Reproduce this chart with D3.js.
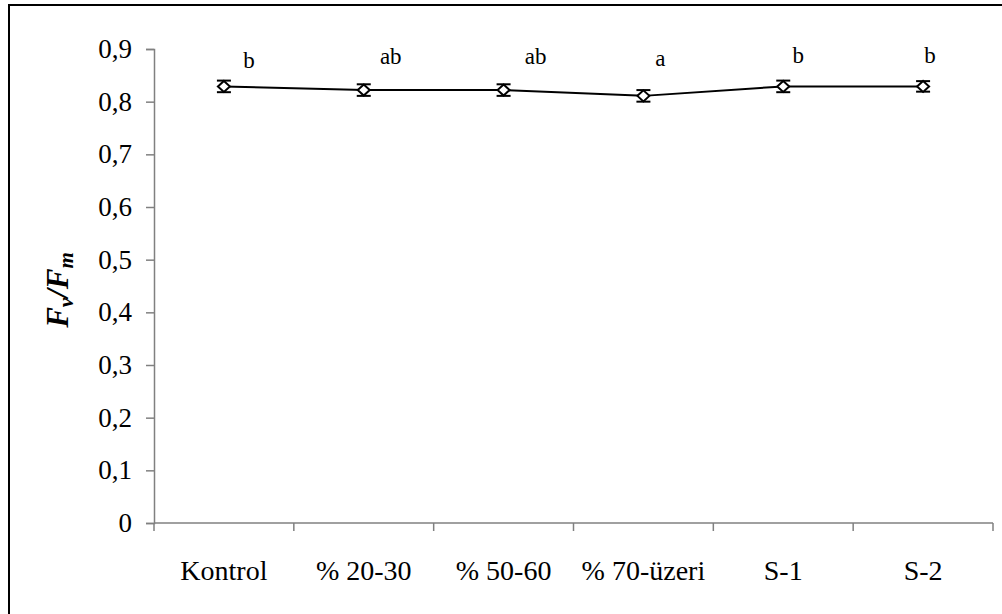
<!DOCTYPE html>
<html>
<head>
<meta charset="utf-8">
<script src="https://cdn.jsdelivr.net/npm/d3@7"></script>
<style>
  svg text, svg tspan { font-family: "Liberation Serif" !important; }
</style>
</head>
<body style="margin:0">
<div id="chart"></div>
<script>
// chart data
const categories = ["Kontrol", "% 20-30", "% 50-60", "% 70-üzeri", "S-1", "S-2"];
const fvfm = [0.829, 0.822, 0.822, 0.811, 0.829, 0.829];
const errors = [0.011, 0.011, 0.011, 0.011, 0.011, 0.01];
const letters = ["b", "ab", "ab", "a", "b", "b"];
const yTicks = [0, 0.1, 0.2, 0.3, 0.4, 0.5, 0.6, 0.7, 0.8, 0.9];

// letter placement relative to each point (hand placed in the original)
const letterDx = [25, 27, 32, 17, 15, 7];
const letterDy = [-18, -26, -26, -30, -23, -23];

const width = 1002;
const height = 614;
const margin = { top: 49, right: 9, bottom: 91, left: 154 };

// serif font on a text selection
function serif(sel) {
  sel.attr("font-family", "Liberation Serif").style("font-family", "Liberation Serif", "important");
}

const svg = d3
  .select("#chart")
  .append("svg")
  .attr("width", width)
  .attr("height", height)
  .attr("font-family", "Liberation Serif");

// outer frame (only top and left visible in the picture)
svg.append("path")
  .attr("d", `M9,${height + 2}V5H${width + 2}`)
  .attr("fill", "none")
  .attr("stroke", "#000")
  .attr("stroke-width", 2);

const x = d3.scaleBand()
  .domain(categories)
  .range([margin.left, width - margin.right]);

const y = d3.scaleLinear()
  .domain([0, 0.9])
  .range([height - margin.bottom, margin.top]);

// y axis
const yAxis = svg.append("g")
  .attr("transform", `translate(${margin.left},0)`)
  .call(d3.axisLeft(y).tickValues(yTicks).tickSize(8).tickPadding(14)
    .tickFormat((d) => (d === 0 ? "0" : d3.format(".1f")(d).replace(".", ","))));

yAxis.call(serif).attr("font-size", 27);
yAxis.select(".domain").attr("stroke", "#808080").attr("stroke-width", 1.5);
yAxis.selectAll(".tick line").attr("stroke", "#808080").attr("stroke-width", 1.5);
yAxis.selectAll(".tick text")
  .call(serif)
  .attr("font-size", 27)
  .attr("fill", "#000");

// x axis: ticks on band edges
const xAxis = svg.append("g")
  .attr("transform", `translate(0,${y(0)})`);

xAxis.append("line")
  .attr("x1", margin.left)
  .attr("x2", width - margin.right)
  .attr("stroke", "#808080")
  .attr("stroke-width", 1.5);

const edges = categories.map((c) => x(c)).concat([x(categories[categories.length - 1]) + x.bandwidth()]);
xAxis.selectAll(".edge")
  .data(edges)
  .enter()
  .append("line")
  .attr("class", "edge")
  .attr("x1", (d) => d)
  .attr("x2", (d) => d)
  .attr("y1", 0)
  .attr("y2", 8)
  .attr("stroke", "#808080")
  .attr("stroke-width", 1.5);

xAxis.selectAll(".cat")
  .data(categories)
  .enter()
  .append("text")
  .attr("class", "cat")
  .attr("x", (d) => x(d) + x.bandwidth() / 2)
  .attr("y", 57)
  .attr("text-anchor", "middle")
  .call(serif)
  .attr("font-size", 28)
  .attr("fill", "#000")
  .text((d) => d);

// y title Fv/Fm
const title = svg.append("text")
  .attr("transform", `translate(68,${(y(0) + y(0.9)) / 2 + 4}) rotate(-90)`)
  .attr("text-anchor", "middle")
  .call(serif)
  .attr("font-size", 31)
  .attr("font-weight", "bold")
  .attr("font-style", "italic");
title.append("tspan").call(serif).text("F");
title.append("tspan").call(serif).attr("font-size", 21).attr("dy", 5).text("v");
title.append("tspan").call(serif).attr("dy", -5).text("/F");
title.append("tspan").call(serif).attr("font-size", 21).attr("dy", 5).text("m");

// line
const cx = (i) => x(categories[i]) + x.bandwidth() / 2;

svg.append("path")
  .datum(fvfm)
  .attr("fill", "none")
  .attr("stroke", "#000")
  .attr("stroke-width", 2)
  .attr("d", d3.line().x((d, i) => cx(i)).y((d) => y(d)));

// error bars
const err = svg.selectAll(".err")
  .data(fvfm)
  .enter()
  .append("g")
  .attr("class", "err")
  .attr("stroke", "#000")
  .attr("stroke-width", 2);

err.append("line")
  .attr("x1", (d, i) => cx(i))
  .attr("x2", (d, i) => cx(i))
  .attr("y1", (d, i) => y(d + errors[i]))
  .attr("y2", (d, i) => y(d - errors[i]));
err.append("line")
  .attr("x1", (d, i) => cx(i) - 7)
  .attr("x2", (d, i) => cx(i) + 7)
  .attr("y1", (d, i) => y(d + errors[i]))
  .attr("y2", (d, i) => y(d + errors[i]));
err.append("line")
  .attr("x1", (d, i) => cx(i) - 7)
  .attr("x2", (d, i) => cx(i) + 7)
  .attr("y1", (d, i) => y(d - errors[i]))
  .attr("y2", (d, i) => y(d - errors[i]));

// diamond markers
svg.selectAll(".pt")
  .data(fvfm)
  .enter()
  .append("path")
  .attr("class", "pt")
  .attr("transform", (d, i) => `translate(${cx(i)},${y(d)})`)
  .attr("d", "M0,-5.5L6,0L0,5.5L-6,0Z")
  .attr("fill", "#fff")
  .attr("stroke", "#000")
  .attr("stroke-width", 2);

// significance letters
svg.selectAll(".letter")
  .data(fvfm)
  .enter()
  .append("text")
  .attr("class", "letter")
  .attr("x", (d, i) => cx(i) + letterDx[i])
  .attr("y", (d, i) => y(d) + letterDy[i])
  .attr("text-anchor", "middle")
  .call(serif)
  .attr("font-size", 23)
  .attr("fill", "#000")
  .text((d, i) => letters[i]);
</script>
</body>
</html>
